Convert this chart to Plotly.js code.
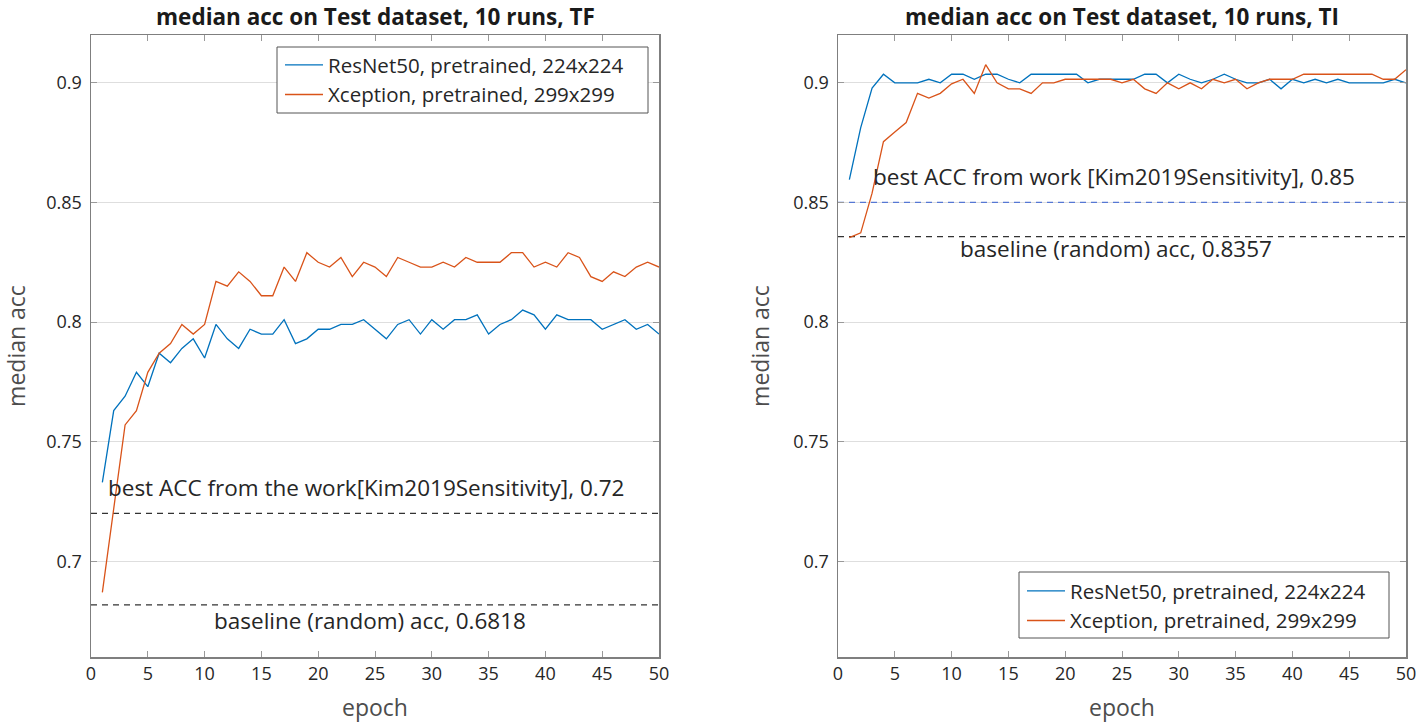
<!DOCTYPE html>
<html>
<head>
<meta charset="utf-8">
<script src="https://cdn.plot.ly/plotly-3.0.1.min.js"></script>
<style>
  html, body { margin: 0; padding: 0; background: #fff; }
  #chart { width: 1417px; height: 723px; }
</style>
</head>
<body>
<div id="chart"></div>
<script>
// epochs 1..50
let epochs = [1,2,3,4,5,6,7,8,9,10,11,12,13,14,15,16,17,18,19,20,21,22,23,24,25,
              26,27,28,29,30,31,32,33,34,35,36,37,38,39,40,41,42,43,44,45,46,47,48,49,50];

// TF - left panel
let tfResnet = [0.733,0.763,0.769,0.779,0.773,0.787,0.783,0.789,0.793,0.785,
                0.799,0.793,0.789,0.797,0.795,0.795,0.801,0.791,0.793,0.797,
                0.797,0.799,0.799,0.801,0.797,0.793,0.799,0.801,0.795,0.801,
                0.797,0.801,0.801,0.803,0.795,0.799,0.801,0.805,0.803,0.797,
                0.803,0.801,0.801,0.801,0.797,0.799,0.801,0.797,0.799,0.795];
let tfXception = [0.687,0.722,0.757,0.763,0.779,0.787,0.791,0.799,0.795,0.799,
                  0.817,0.815,0.821,0.817,0.811,0.811,0.823,0.817,0.829,0.825,
                  0.823,0.827,0.819,0.825,0.823,0.819,0.827,0.825,0.823,0.823,
                  0.825,0.823,0.827,0.825,0.825,0.825,0.829,0.829,0.823,0.825,
                  0.823,0.829,0.827,0.819,0.817,0.821,0.819,0.823,0.825,0.823];
let tfBest = 0.72;
let tfBaseline = 0.6818;

// TI - right panel
let tiResnet = [0.8595,0.8813,0.8978,0.9036,0.9,0.9,0.9,0.9015,0.9,0.9036,
                0.9036,0.9015,0.9036,0.9036,0.9015,0.9,0.9036,0.9036,0.9036,0.9036,
                0.9036,0.9,0.9015,0.9015,0.9015,0.9015,0.9036,0.9036,0.9,0.9036,
                0.9015,0.9,0.9015,0.9036,0.9015,0.9,0.9,0.9015,0.8975,0.9015,
                0.9,0.9015,0.9,0.9015,0.9,0.9,0.9,0.9,0.9015,0.9];
let tiXception = [0.8353,0.8373,0.8539,0.8754,0.8795,0.8834,0.8956,0.8936,0.8956,0.8996,
                  0.9015,0.8956,0.9076,0.9,0.8975,0.8975,0.8956,0.9,0.9,0.9015,
                  0.9015,0.9015,0.9015,0.9015,0.9,0.9015,0.8975,0.8956,0.9,0.8975,
                  0.9,0.8975,0.9015,0.9,0.9015,0.8975,0.9,0.9015,0.9015,0.9015,
                  0.9036,0.9036,0.9036,0.9036,0.9036,0.9036,0.9036,0.9015,0.9015,0.9055];
let tiBest = 0.85;
let tiBaseline = 0.8357;

let xRange = [0, 50];
let yRange = [0.66, 0.92];
let yTicks = [0.7, 0.75, 0.8, 0.85, 0.9];
let xTicks = [0,5,10,15,20,25,30,35,40,45,50];

let blue = "#0072BD";
let red = "#D95319";
let FONT = "Open Sans, Noto Sans, sans-serif";

function refLine(y, xa, ya, color) {
    return {
        x: xRange, y: [y, y], xaxis: xa, yaxis: ya,
        mode: 'lines', showlegend: false, hoverinfo: 'skip',
        line: {color: color, width: 1.2, dash: '6px,5px'}
    };
}

let traces = [
    refLine(tfBest, 'x', 'y', '#333'),
    refLine(tfBaseline, 'x', 'y', '#333'),
    refLine(tiBest, 'x2', 'y2', '#5577d4'),
    refLine(tiBaseline, 'x2', 'y2', '#333'),
    {x: epochs, y: tfResnet, name: 'ResNet50, pretrained, 224x224', mode: 'lines',
     line: {color: blue, width: 1.3}, legend: 'legend'},
    {x: epochs, y: tfXception, name: 'Xception, pretrained, 299x299', mode: 'lines',
     line: {color: red, width: 1.3}, legend: 'legend'},
    {x: epochs, y: tiResnet, name: 'ResNet50, pretrained, 224x224', mode: 'lines',
     xaxis: 'x2', yaxis: 'y2', line: {color: blue, width: 1.3}, legend: 'legend2'},
    {x: epochs, y: tiXception, name: 'Xception, pretrained, 299x299', mode: 'lines',
     xaxis: 'x2', yaxis: 'y2', line: {color: red, width: 1.3}, legend: 'legend2'}
];

function xAxis(domain, anchor) {
    return {
        domain: domain, anchor: anchor, range: xRange,
        tickvals: xTicks, ticks: 'inside', ticklen: 6, tickcolor: '#999',
        showgrid: false, zeroline: false,
        showline: true, linecolor: '#7f7f7f', linewidth: 1.5, mirror: 'ticks',
        tickfont: {family: FONT, size: 18, color: '#262626'},
        title: {text: 'epoch', standoff: 16, font: {family: FONT, size: 23, color: '#4d4d4d'}}
    };
}
function yAxis(domain, anchor) {
    return {
        domain: domain, anchor: anchor, range: yRange,
        tickvals: yTicks, ticks: 'inside', ticklen: 6, tickcolor: '#999',
        showgrid: true, gridcolor: '#dedede', gridwidth: 1, zeroline: false,
        showline: true, linecolor: '#7f7f7f', linewidth: 1.5, mirror: 'ticks',
        ticklabelstandoff: 4,
        tickfont: {family: FONT, size: 18, color: '#262626'},
        title: {text: 'median acc', standoff: 17, font: {family: FONT, size: 23, color: '#4d4d4d'}}
    };
}

let W = 1417, H = 723;
let yDom = [1 - 657 / H, 1 - 35 / H];

function legendBox(x0, y0, x1, y1) {
    return {type: 'rect', xref: 'paper', yref: 'paper', layer: 'above',
            x0: x0 / W, x1: x1 / W, y0: 1 - y1 / H, y1: 1 - y0 / H,
            fillcolor: '#fff', line: {color: '#555', width: 1}};
}

let legendFont = {family: FONT, size: 20.5, color: '#262626'};

let layout = {
    width: W, height: H,
    margin: {l: 0, r: 0, t: 0, b: 0},
    paper_bgcolor: '#fff', plot_bgcolor: '#fff',
    font: {family: FONT, color: '#262626'},
    xaxis: xAxis([91 / W, 659 / W], 'y'),
    yaxis: yAxis(yDom, 'x'),
    xaxis2: xAxis([838 / W, 1406 / W], 'y2'),
    yaxis2: yAxis(yDom, 'x2'),
    shapes: [legendBox(277, 47, 648, 113), legendBox(1019, 572, 1389, 638)],
    legend: {
        x: 280 / W, y: 1 - 45 / H, xanchor: 'left', yanchor: 'top',
        bgcolor: 'rgba(0,0,0,0)', borderwidth: 0, itemwidth: 38,
        font: legendFont
    },
    legend2: {
        x: 1022 / W, y: 1 - 571 / H, xanchor: 'left', yanchor: 'top',
        bgcolor: 'rgba(0,0,0,0)', borderwidth: 0, itemwidth: 38,
        font: legendFont
    },
    annotations: [
        {text: 'median acc on Test dataset, 10 runs, TF', xref: 'paper', yref: 'paper',
         x: 375 / W, y: 1 - 16 / H, xanchor: 'center', yanchor: 'middle', showarrow: false,
         font: {family: FONT, size: 22.5, weight: 700, color: '#1a1a1a'}},
        {text: 'median acc on Test dataset, 10 runs, TI', xref: 'paper', yref: 'paper',
         x: 1122 / W, y: 1 - 16 / H, xanchor: 'center', yanchor: 'middle', showarrow: false,
         font: {family: FONT, size: 22.5, weight: 700, color: '#1a1a1a'}},
        {text: 'best ACC from the work[Kim2019Sensitivity], 0.72', xref: 'x', yref: 'y',
         x: 24.2, y: tfBest, yshift: 26, showarrow: false,
         font: {family: FONT, size: 22.5, color: '#262626'}},
        {text: 'baseline (random) acc, 0.6818', xref: 'x', yref: 'y',
         x: 24.6, y: tfBaseline, yshift: -16, showarrow: false,
         font: {family: FONT, size: 22.5, color: '#262626'}},
        {text: 'best ACC from work [Kim2019Sensitivity], 0.85', xref: 'x2', yref: 'y2',
         x: 24.3, y: tiBest, yshift: 26, showarrow: false,
         font: {family: FONT, size: 22.5, color: '#262626'}},
        {text: 'baseline (random) acc, 0.8357', xref: 'x2', yref: 'y2',
         x: 24.5, y: tiBaseline, yshift: -12, showarrow: false,
         font: {family: FONT, size: 22.5, color: '#262626'}}
    ]
};

Plotly.newPlot('chart', traces, layout, {displayModeBar: false, staticPlot: true});
</script>
</body>
</html>
